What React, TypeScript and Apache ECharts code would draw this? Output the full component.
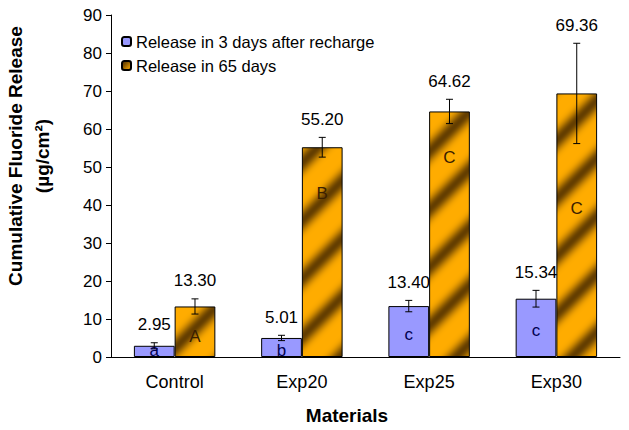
import React, { useEffect, useRef } from "react";
import * as echarts from "echarts";

const categories = ["Control", "Exp20", "Exp25", "Exp30"];
const seriesNames = ["Release in 3 days after recharge", "Release in 65 days"];
const release3 = [2.95, 5.01, 13.4, 15.34];
const release3Err = [0.8, 0.7, 1.5, 2.2];
const release65 = [13.3, 55.2, 64.62, 69.36];
const release65Err = [2.0, 2.6, 3.2, 13.2];
const letters3 = ["a", "b", "c", "c"];
const letters65 = ["A", "B", "C", "C"];
const letters3At = [1.8, 1.8, 5.8, 7.1];
const letters65At = [5.3, 43, 52.6, 39.2];

const FONT = "Liberation Sans, Arial, sans-serif";

function makeStripe(): string {
  const S = 58;
  const c = document.createElement("canvas");
  c.width = S;
  c.height = S;
  const ctx = c.getContext("2d")!;
  const img = ctx.createImageData(S, S);
  const bright = [255, 172, 0];
  const dark = [100, 62, 0];
  for (let y = 0; y < S; y++) {
    for (let x = 0; x < S; x++) {
      const t = ((x + y) % S) / S;
      let f = 0.5 + 0.5 * Math.cos(2 * Math.PI * t);
      f = Math.pow(f, 2.6);
      const i = (y * S + x) * 4;
      for (let k = 0; k < 3; k++) img.data[i + k] = Math.round(bright[k] * (1 - f) + dark[k] * f);
      img.data[i + 3] = 255;
    }
  }
  ctx.putImageData(img, 0, 0);
  return c.toDataURL();
}

export default function App() {
  const ref = useRef<HTMLDivElement>(null);
  useEffect(() => {
    if (!ref.current) return;
    const chart = echarts.init(ref.current, null, { renderer: "svg" });
    const stripe = makeStripe();
    const orangeFill: any = { image: stripe, repeat: "repeat", imageWidth: 58, imageHeight: 58 };
    const gapRatio = 0.36;

    const values = [release3, release65];
    const errs = [release3Err, release65Err];
    const letters = [letters3, letters65];
    const lettersAt = [letters3At, letters65At];

    const makeOverlay = (s: number) => ({
      type: "custom",
      name: "overlay" + s,
      z: 5,
      silent: true,
      data: categories.map((_, i) => [i, values[s][i]]),
      renderItem: (params: any, api: any) => {
        const i = params.dataIndex;
        const center = api.coord([i, 0])[0];
        const band = api.size([1, 0])[0];
        const bw = (band * (1 - gapRatio)) / 2;
        const x = center + (s === 0 ? -bw / 2 : bw / 2);
        const v = values[s][i];
        const e = errs[s][i];
        const yTop = api.coord([i, v + e])[1];
        const yBot = api.coord([i, v - e])[1];
        const yLet = api.coord([i, lettersAt[s][i]])[1];
        const cap = 3.5;
        const ls = { stroke: "#000", lineWidth: 1 };
        return {
          type: "group",
          children: [
            { type: "line", shape: { x1: x, y1: yTop, x2: x, y2: yBot }, style: ls },
            { type: "line", shape: { x1: x - cap, y1: yTop, x2: x + cap, y2: yTop }, style: ls },
            { type: "line", shape: { x1: x - cap, y1: yBot, x2: x + cap, y2: yBot }, style: ls },
            {
              type: "text",
              x,
              y: yTop - 18,
              style: {
                text: v.toFixed(2),
                fill: "#000",
                font: `17px ${FONT}`,
                textAlign: "center",
                textVerticalAlign: "middle",
              },
            },
            {
              type: "text",
              x,
              y: yLet,
              style: {
                text: letters[s][i],
                fill: s === 0 ? "#000050" : "#3a2000",
                font: `17px ${FONT}`,
                textAlign: "center",
                textVerticalAlign: "middle",
              },
            },
          ],
        };
      },
    });

    chart.setOption({
      animation: false,
      grid: { left: 111, right: 9, top: 15, bottom: 73 },
      legend: {
        left: 116,
        top: 28,
        orient: "vertical",
        itemWidth: 9,
        itemHeight: 9,
        itemGap: 7,
        data: seriesNames,
        textStyle: { fontFamily: FONT, fontSize: 16.5, color: "#000", lineHeight: 16 },
      },
      xAxis: {
        type: "category",
        data: categories,
        axisLine: { lineStyle: { color: "#000", width: 1 } },
        axisTick: { show: false },
        axisLabel: { color: "#000", fontFamily: FONT, fontSize: 18, margin: 16 },
      },
      yAxis: {
        type: "value",
        min: 0,
        max: 90,
        interval: 10,
        splitLine: { show: false },
        axisLine: { show: true, lineStyle: { color: "#000", width: 1 } },
        axisTick: { show: true, length: 5, lineStyle: { color: "#000" } },
        axisLabel: { color: "#000", fontFamily: FONT, fontSize: 17, margin: 9 },
      },
      graphic: [
        {
          type: "text",
          x: 29,
          y: 156,
          rotation: Math.PI / 2,
          style: {
            text: "Cumulative Fluoride Release\n(µg/cm²)",
            font: `bold 19px ${FONT}`,
            fill: "#000",
            textAlign: "center",
            textVerticalAlign: "middle",
            lineHeight: 27,
          },
        },
        {
          type: "text",
          x: 347,
          y: 415,
          style: {
            text: "Materials",
            font: `bold 19px ${FONT}`,
            fill: "#000",
            textAlign: "center",
            textVerticalAlign: "middle",
          },
        },
      ],
      series: [
        {
          type: "bar",
          name: seriesNames[0],
          data: release3,
          barGap: "0%",
          barCategoryGap: "36%",
          itemStyle: { color: "#9999FF", borderColor: "#000", borderWidth: 1 },
        },
        {
          type: "bar",
          name: seriesNames[1],
          data: release65,
          barGap: "0%",
          barCategoryGap: "36%",
          itemStyle: { color: orangeFill, borderColor: "#000", borderWidth: 1 },
        },
        makeOverlay(0),
        makeOverlay(1),
      ],
    });
    return () => chart.dispose();
  }, []);
  return (
    <div
      ref={ref}
      style={{ position: "fixed", left: 0, top: 0, width: 629, height: 430, background: "#fff" }}
    />
  );
}
